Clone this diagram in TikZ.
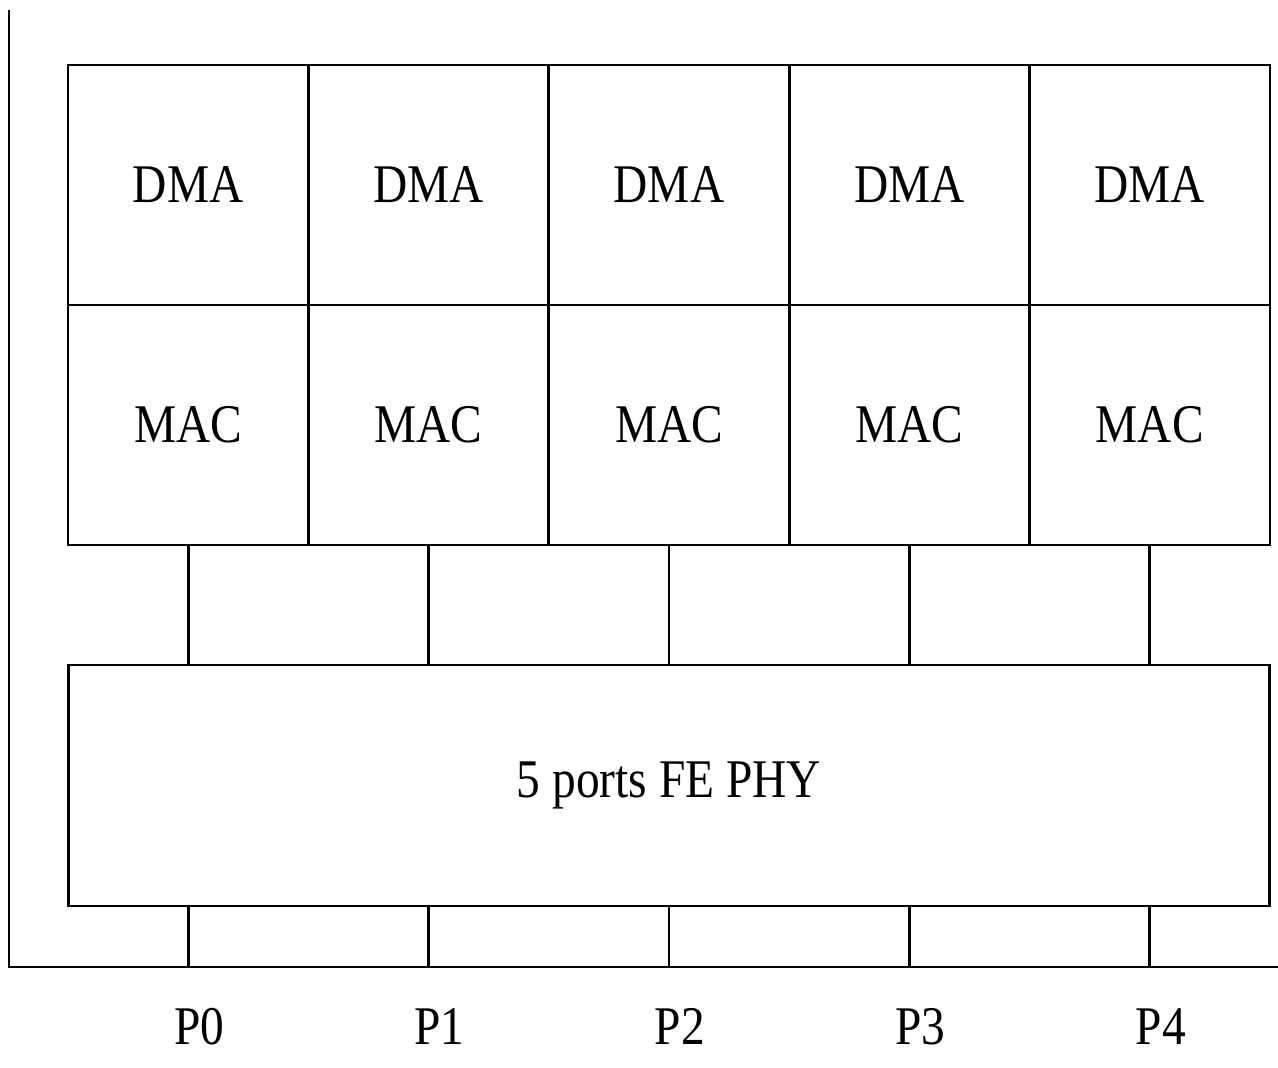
\documentclass[tikz,border=0pt]{standalone}
\usepackage{fontspec}
\setmainfont{Liberation Serif}[FakeStretch=0.87]
\usepackage{tikz}
\usetikzlibrary{positioning,calc}

\tikzset{
  cell/.style={draw,line width=1.6pt,minimum width=4.81cm,minimum height=4.8cm,
    inner sep=0pt,outer sep=0pt,font=\fontsize{31}{36}\selectfont},
  wire/.style={line width=1.6pt},
  portlabel/.style={inner sep=0pt,anchor=base,font=\fontsize{31}{36}\selectfont}
}

\begin{document}
\begin{tikzpicture}[x=0.02cm,y=-0.02cm]
  \useasboundingbox (0,0) rectangle (1278,1068);
  % frame of the board
  \coordinate (top) at (9,10);
  \coordinate (corner) at (9,967);
  \coordinate (right) at (1278,967);
  \draw[wire] (top) -- (corner) -- (right);
  % one column per port
  \foreach \i in {0,...,4}{
    \node[cell] (dma\i) at ({188.2+240.4*\i},185) {DMA};
    \node[cell,below=0pt of dma\i] (mac\i) {MAC};
  }
  \node[cell,minimum width=24.04cm,minimum height=4.82cm] (phy) at (669,785.5) {5 ports FE PHY};
  \foreach \i in {0,...,4}{
    \draw[wire] (mac\i.south) -- (mac\i.south |- phy.north);
    \draw[wire] (phy.south -| mac\i) -- (mac\i |- corner);
    \node[portlabel] (p\i) at ($(mac\i |- 0,1044)+(11,0)$) {P\i};
  }
\end{tikzpicture}
\end{document}
